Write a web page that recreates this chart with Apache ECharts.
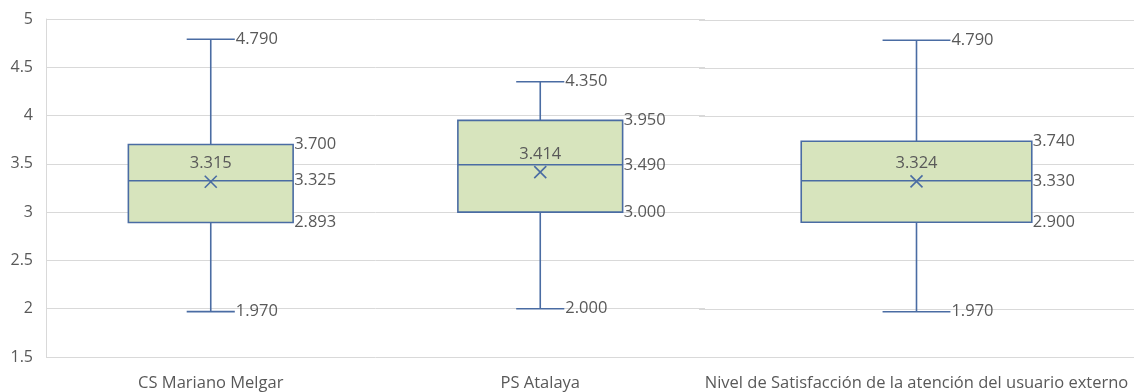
<!DOCTYPE html>
<html>
<head>
<meta charset="utf-8">
<script src="https://cdn.jsdelivr.net/npm/echarts@6/dist/echarts.min.js"></script>
<style>
  html, body { margin: 0; padding: 0; background: #fff; }
  #chart { width: 1134px; height: 392px; }
</style>
</head>
<body>
<div id="chart"></div>
<script>
// Box plot summary of satisfaction scores per facility
const categories = ['CS Mariano Melgar', 'PS Atalaya', 'Nivel de Satisfacción de la atención del usuario externo'];
const minValues    = [1.970, 2.000, 1.970];
const q1Values     = [2.893, 3.000, 2.900];
const medianValues = [3.325, 3.490, 3.330];
const q3Values     = [3.700, 3.950, 3.740];
const maxValues    = [4.790, 4.350, 4.790];
const meanValues   = [3.315, 3.414, 3.324];
const yTicks = { min: 1.5, max: 5, interval: 0.5 };

const LINE = '#4a6ca3';
const FILL = '#d7e4bd';
const TEXT = '#595959';
const FONT = '"Open Sans", sans-serif';

const rows = categories.map((c, i) => [i, minValues[i], q1Values[i], medianValues[i], q3Values[i], maxValues[i], meanValues[i]]);

// boxRatio / capRatio: half-widths of the box and whisker caps relative to the category band
function makeRenderer(boxRatio, capRatio) {
  return function (params, api) {
    const idx = api.value(0);
    const mn = api.value(1), q1 = api.value(2), md = api.value(3),
          q3 = api.value(4), mx = api.value(5), mean = api.value(6);
    const band = api.size([1, 0])[0];
    const half = band * boxRatio;
    const capHalf = band * capRatio;
    const cx = api.coord([idx, md])[0];
    const y = v => api.coord([idx, v])[1];
    const lineStyle = { stroke: LINE, lineWidth: 1.6 };
    const label = (text, x, yy, align) => ({
      type: 'text',
      style: { text, x, y: yy, align, verticalAlign: 'middle', fill: TEXT, font: '16.5px ' + FONT }
    });
    const seg = (x1, y1, x2, y2) => ({ type: 'line', shape: { x1, y1, x2, y2 }, style: lineStyle });
    const m = 6;
    const ym = y(mean);
    return {
      type: 'group',
      children: [
        seg(cx, y(q3), cx, y(mx)),
        seg(cx - capHalf, y(mx), cx + capHalf, y(mx)),
        seg(cx, y(q1), cx, y(mn)),
        seg(cx - capHalf, y(mn), cx + capHalf, y(mn)),
        {
          type: 'rect',
          shape: { x: cx - half, y: y(q3), width: half * 2, height: y(q1) - y(q3) },
          style: { fill: FILL, stroke: LINE, lineWidth: 1.6 }
        },
        seg(cx - half, y(md), cx + half, y(md)),
        seg(cx - m, ym - m, cx + m, ym + m),
        seg(cx - m, ym + m, cx + m, ym - m),
        label(mx.toFixed(3), cx + capHalf + 1, y(mx), 'left'),
        label(mn.toFixed(3), cx + capHalf + 1, y(mn), 'left'),
        label(q3.toFixed(3), cx + half + 1, y(q3), 'left'),
        label(md.toFixed(3), cx + half + 1, y(md), 'left'),
        label(q1.toFixed(3), cx + half + 1, y(q1), 'left'),
        label(mean.toFixed(3), cx, ym - 18, 'center')
      ]
    };
  };
}

const chart = echarts.init(document.getElementById('chart'), null, { renderer: 'canvas' });

const xAxisBase = {
  type: 'category',
  axisLine: { show: false },
  axisTick: { show: false },
  axisLabel: { color: TEXT, fontFamily: FONT, fontSize: 16.5, margin: 18, interval: 0 },
  splitLine: { show: false }
};
const yAxisBase = {
  type: 'value',
  min: yTicks.min, max: yTicks.max, interval: yTicks.interval,
  splitLine: { show: true, lineStyle: { color: '#d9d9d9', width: 1 } },
  axisTick: { show: false }
};

chart.setOption({
  animation: false,
  backgroundColor: '#ffffff',
  grid: [
    { left: 46, right: 429, top: 19, bottom: 34 },
    { left: 699, right: 0, top: 20, bottom: 33 }
  ],
  xAxis: [
    Object.assign({}, xAxisBase, { gridIndex: 0, data: categories.slice(0, 2) }),
    Object.assign({}, xAxisBase, { gridIndex: 1, data: categories.slice(2) })
  ],
  yAxis: [
    Object.assign({}, yAxisBase, {
      gridIndex: 0,
      axisLine: { show: true, lineStyle: { color: '#d9d9d9', width: 1 } },
      axisLabel: {
        color: TEXT, fontFamily: FONT, fontSize: 16, margin: 13,
        formatter: v => String(Math.round(v * 10) / 10)
      }
    }),
    Object.assign({}, yAxisBase, {
      gridIndex: 1,
      axisLine: { show: false },
      axisLabel: { show: false }
    })
  ],
  series: [
    {
      type: 'custom', xAxisIndex: 0, yAxisIndex: 0,
      renderItem: makeRenderer(0.25, 0.073),
      encode: { x: 0, y: [1, 2, 3, 4, 5] },
      data: rows.slice(0, 2)
    },
    {
      type: 'custom', xAxisIndex: 1, yAxisIndex: 1,
      renderItem: makeRenderer(0.265, 0.078),
      encode: { x: 0, y: [1, 2, 3, 4, 5] },
      data: rows.slice(2).map(r => [0].concat(r.slice(1)))
    }
  ]
});
</script>
</body>
</html>
